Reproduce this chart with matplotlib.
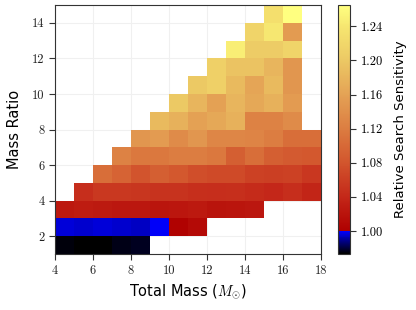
import numpy as np
import matplotlib as mpl
mpl.use('Agg')
import matplotlib.pyplot as plt
from matplotlib.colors import LinearSegmentedColormap

# grid edges (cells are 1 Msun wide, 1 unit of mass ratio tall)
mass_edges = np.arange(4, 19)
ratio_edges = np.arange(1, 16)

# first total-mass bin filled in each mass-ratio row (q = 1 .. 14)
row_start = [4, 4, 4, 5, 6, 7, 8, 9, 10, 11, 12, 13, 14, 15]

# relative search sensitivity, read row by row from q = 1 upwards
sensitivity = [
    [0.975, 0.973, 0.973, 0.976, 0.977],
    [0.996, 0.995, 0.996, 0.9955, 0.9936, 0.9999, 1.002, 1.010],
    [1.025, 1.028, 1.026, 1.024, 1.024, 1.022, 1.023, 1.025, 1.020, 1.022, 1.024],
    [1.045, 1.055, 1.055, 1.052, 1.050, 1.050, 1.047, 1.045, 1.047, 1.043, 1.040, 1.045, 1.038],
    [1.105, 1.095, 1.080, 1.090, 1.083, 1.074, 1.071, 1.071, 1.062, 1.060, 1.062, 1.053],
    [1.125, 1.115, 1.115, 1.120, 1.120, 1.115, 1.090, 1.105, 1.090, 1.085, 1.083],
    [1.147, 1.153, 1.135, 1.147, 1.130, 1.130, 1.127, 1.120, 1.105, 1.105],
    [1.185, 1.175, 1.158, 1.166, 1.175, 1.125, 1.125, 1.135],
    [1.200, 1.180, 1.158, 1.180, 1.166, 1.176, 1.153],
    [1.200, 1.210, 1.185, 1.163, 1.185, 1.147],
    [1.210, 1.195, 1.195, 1.180, 1.147],
    [1.247, 1.205, 1.205, 1.215],
    [1.215, 1.240, 1.153],
    [1.230, 1.265],
]

grid = np.full((len(ratio_edges) - 1, len(mass_edges) - 1), np.nan)
for i, (start, vals) in enumerate(zip(row_start, sensitivity)):
    j = start - mass_edges[0]
    grid[i, j:j + len(vals)] = vals
grid = np.ma.masked_invalid(grid)

vmin, vmax = grid.min(), grid.max()
f1 = (1.0 - vmin) / (vmax - vmin)

def frac(v):
    return (v - vmin) / (vmax - vmin)

# black -> blue below 1, dark red -> pale yellow above 1
anchors = [
    (0.0, (0, 0, 0)),
    (f1 - 1e-4, (0, 0, 255)),
    (f1, (175, 0, 0)),
    (frac(1.04), (196, 40, 25)),
    (frac(1.08), (210, 85, 45)),
    (frac(1.12), (220, 125, 65)),
    (frac(1.16), (228, 162, 85)),
    (frac(1.20), (236, 200, 100)),
    (frac(1.24), (246, 230, 112)),
    (1.0, (255, 255, 128)),
]
cmap = LinearSegmentedColormap.from_list(
    'sens', [(p, tuple(c / 255 for c in col)) for p, col in anchors], N=256)

plt.rcParams['mathtext.fontset'] = 'cm'
tickfont = {'family': 'cmr10', 'size': 9}

fig = plt.figure(figsize=(4.16, 3.10), dpi=100)
ax = fig.add_axes([0.1322, 0.1806, 0.6394, 0.8032])
cax = fig.add_axes([0.8125, 0.1806, 0.0288, 0.8032])

ax.set_axisbelow(True)
ax.grid(True, color='#f0f0f0', lw=0.8)
mesh = ax.pcolormesh(mass_edges, ratio_edges, grid, cmap=cmap,
                     vmin=vmin, vmax=vmax)
ax.set_xlim(4, 18)
ax.set_ylim(1, 15)
ax.set_xticks(np.arange(4, 19, 2))
ax.set_yticks(np.arange(2, 15, 2))
for lab in ax.get_xticklabels() + ax.get_yticklabels():
    lab.set_fontfamily('cmr10')
    lab.set_fontsize(9)
for s in ax.spines.values():
    s.set_color('#333333')
ax.tick_params(direction='out', length=4, color='#333333', labelcolor='#222222')
ax.set_xlabel(r'Total Mass ($M_{\odot}$)', fontsize=10.5)
ax.set_ylabel('Mass Ratio', fontsize=10.5, labelpad=7)

cb = fig.colorbar(mesh, cax=cax)
cb.set_ticks(np.arange(1.0, 1.25, 0.04))
cb.ax.set_yticklabels(['%.2f' % t for t in np.arange(1.0, 1.25, 0.04)],
                      fontdict=tickfont)
cb.outline.set_edgecolor('#333333')
cb.ax.tick_params(length=4, color='#333333')
cb.set_label('Relative Search Sensitivity', fontsize=9.5, labelpad=8)

fig.savefig('out.png', dpi=100)
